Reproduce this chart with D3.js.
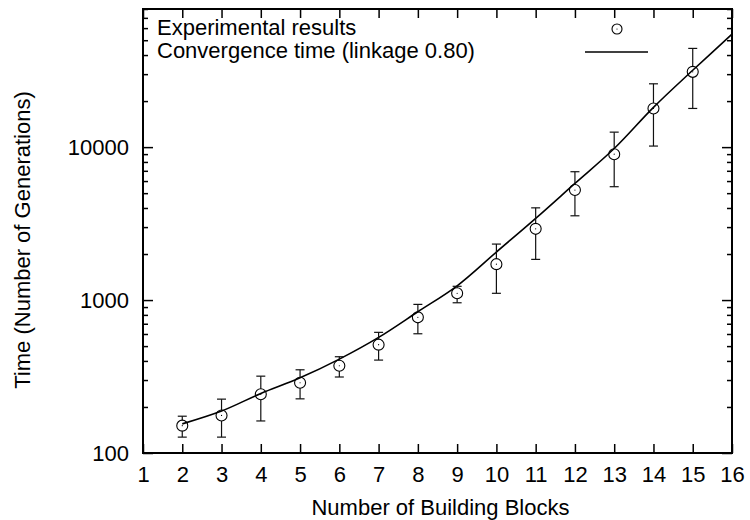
<!DOCTYPE html>
<html>
<head>
<meta charset="utf-8">
<script src="https://cdn.jsdelivr.net/npm/d3@7/dist/d3.min.js"></script>
<style>
  html, body { margin: 0; padding: 0; background: #fff; }
  svg { display: block; font-family: "Liberation Sans", Arial, Helvetica, sans-serif; }
</style>
</head>
<body>
<svg id="chart" width="750" height="520"></svg>
<script>
// ---- data ----
const blocks = [2, 3, 4, 5, 6, 7, 8, 9, 10, 11, 12, 13, 14, 15];
const meanTime = [151, 176, 242, 288, 372, 511, 771, 1107, 1717, 2922, 5240, 8990, 17900, 31050];
const lowTime  = [127, 127, 162, 226, 314, 405, 602, 960, 1107, 1845, 3556, 5510, 10160, 17900];
const highTime = [174, 225, 318, 350, 426, 615, 937, 1230, 2323, 4008, 6905, 12530, 25940, 44200];
const curveBlocks = [2, 3, 4, 5, 6, 7, 8, 9, 10, 11, 12, 13, 14, 15, 16];
const curveTime = [155, 188, 245, 310, 411, 570, 839, 1240, 2060, 3420, 5790, 9790, 18200, 31800, 54800];
const xTicks = [1, 2, 3, 4, 5, 6, 7, 8, 9, 10, 11, 12, 13, 14, 15, 16];
const yMajorTicks = [100, 1000, 10000];
const yMinorTicks = [200, 300, 400, 500, 600, 700, 800, 900,
                     2000, 3000, 4000, 5000, 6000, 7000, 8000, 9000,
                     20000, 30000, 40000, 50000, 60000, 70000, 80000];
const legendLabels = ["Experimental results", "Convergence time (linkage 0.80)"];
const xTitle = "Number of Building Blocks";
const yTitle = "Time (Number of Generations)";

// ---- layout ----
const L = 143, R = 732, T = 9, B = 453;
const svg = d3.select("#chart");

const x = d3.scaleLinear().domain([1, 16]).range([L, R]);
const y = d3.scaleLog().domain([100, 80000]).range([B, T]);

const fs = 22;

function styleAxis(g) {
  g.select(".domain").remove();
  g.selectAll(".tick line").attr("stroke", "#000").attr("stroke-width", 1.5);
  g.selectAll(".tick text").attr("fill", "#000").attr("font-size", fs)
    .attr("font-family", "'Liberation Sans', Arial, Helvetica, sans-serif");
}

// bottom axis
svg.append("g").attr("transform", `translate(0,${B})`)
  .call(d3.axisBottom(x).tickValues(xTicks).tickFormat(d3.format("d")).tickSizeInner(-9).tickSizeOuter(0).tickPadding(13))
  .call(styleAxis);
// top axis (mirror)
svg.append("g").attr("transform", `translate(0,${T})`)
  .call(d3.axisTop(x).tickValues(xTicks).tickFormat("").tickSizeInner(-9).tickSizeOuter(0))
  .call(styleAxis);
// left axis major
svg.append("g").attr("transform", `translate(${L},0)`)
  .call(d3.axisLeft(y).tickValues(yMajorTicks).tickFormat(d3.format("d")).tickSizeInner(-10).tickSizeOuter(0).tickPadding(14))
  .call(styleAxis);
// left axis minor
svg.append("g").attr("transform", `translate(${L},0)`)
  .call(d3.axisLeft(y).tickValues(yMinorTicks).tickFormat("").tickSizeInner(-5).tickSizeOuter(0))
  .call(styleAxis);
// right axis major + minor (mirror)
svg.append("g").attr("transform", `translate(${R},0)`)
  .call(d3.axisRight(y).tickValues(yMajorTicks).tickFormat("").tickSizeInner(-10).tickSizeOuter(0))
  .call(styleAxis);
svg.append("g").attr("transform", `translate(${R},0)`)
  .call(d3.axisRight(y).tickValues(yMinorTicks).tickFormat("").tickSizeInner(-5).tickSizeOuter(0))
  .call(styleAxis);

// frame
svg.append("rect").attr("x", L).attr("y", T).attr("width", R - L).attr("height", B - T)
  .attr("fill", "none").attr("stroke", "#000").attr("stroke-width", 2);

// titles
svg.append("text").attr("x", (L + R) / 2 + 3).attr("y", 507)
  .attr("text-anchor", "middle").attr("dominant-baseline", "central")
  .attr("font-size", fs).text(xTitle);
svg.append("text").attr("transform", `translate(22,240) rotate(-90)`)
  .attr("text-anchor", "middle").attr("dominant-baseline", "central")
  .attr("font-size", fs).text(yTitle);

// clip
svg.append("clipPath").attr("id", "plotclip").append("rect")
  .attr("x", L).attr("y", T).attr("width", R - L).attr("height", B - T);

// curve
const curveData = curveBlocks.map((b, i) => [b, curveTime[i]]);
svg.append("path").datum(curveData)
  .attr("clip-path", "url(#plotclip)")
  .attr("fill", "none").attr("stroke", "#000").attr("stroke-width", 1.6)
  .attr("d", d3.line().x(d => x(d[0])).y(d => y(d[1])).curve(d3.curveCatmullRom.alpha(0.5)));

// error bars and points
const r = 5.5, cap = 4.5;
const pts = blocks.map((b, i) => ({ b, m: meanTime[i], lo: lowTime[i], hi: highTime[i] }));
const eb = svg.append("g").attr("stroke", "#111").attr("stroke-width", 1.2).attr("fill", "none");
pts.forEach(p => {
  const cx = x(p.b), cy = y(p.m), yl = y(p.lo), yh = y(p.hi);
  if (yh < cy - r) eb.append("line").attr("x1", cx).attr("x2", cx).attr("y1", yh).attr("y2", cy - r);
  if (yl > cy + r) eb.append("line").attr("x1", cx).attr("x2", cx).attr("y1", cy + r).attr("y2", yl);
  eb.append("line").attr("x1", cx - cap).attr("x2", cx + cap).attr("y1", yh).attr("y2", yh);
  eb.append("line").attr("x1", cx - cap).attr("x2", cx + cap).attr("y1", yl).attr("y2", yl);
});
svg.append("g").selectAll("circle.pt").data(pts).join("circle")
  .attr("cx", d => x(d.b)).attr("cy", d => y(d.m)).attr("r", r)
  .attr("fill", "none").attr("stroke", "#000").attr("stroke-width", 1.1);
svg.append("g").selectAll("circle.dot").data(pts).join("circle")
  .attr("cx", d => x(d.b)).attr("cy", d => y(d.m)).attr("r", 0.6).attr("fill", "#000");

// legend
const lg = svg.append("g");
lg.append("text").attr("x", 157).attr("y", 27).attr("dominant-baseline", "central")
  .attr("font-size", fs).text(legendLabels[0]);
lg.append("text").attr("x", 157).attr("y", 50).attr("dominant-baseline", "central")
  .attr("font-size", fs).text(legendLabels[1]);
lg.append("circle").attr("cx", 617).attr("cy", 29).attr("r", 5)
  .attr("fill", "none").attr("stroke", "#000").attr("stroke-width", 1.1);
lg.append("circle").attr("cx", 617).attr("cy", 29).attr("r", 0.6).attr("fill", "#000");
lg.append("line").attr("x1", 585).attr("x2", 648).attr("y1", 52).attr("y2", 52)
  .attr("stroke", "#000").attr("stroke-width", 1.6);
</script>
</body>
</html>
